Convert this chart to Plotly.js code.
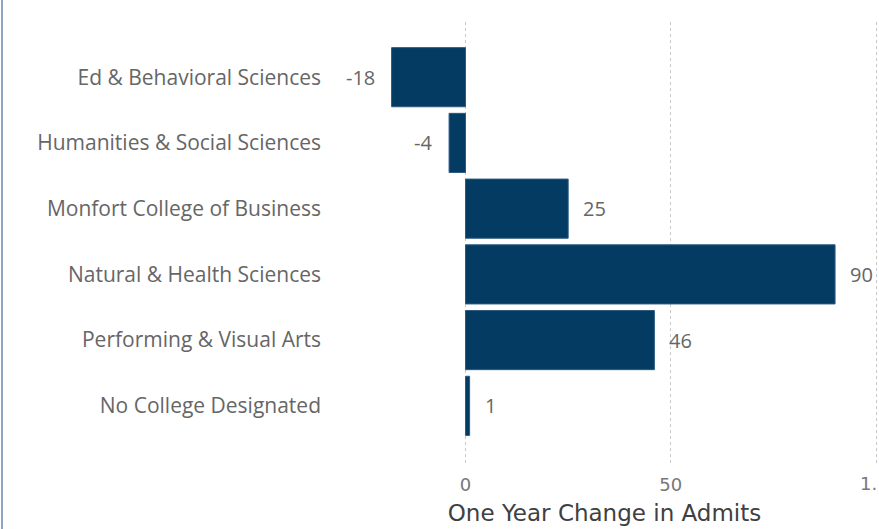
<!DOCTYPE html>
<html><head><meta charset="utf-8">
<script src="https://cdn.plot.ly/plotly-3.0.1.min.js"></script>
<style>html,body{margin:0;padding:0;background:#fff;}#chart{width:879px;height:529px;}
#edge{position:absolute;left:1px;top:0;width:2px;height:529px;background:#8fa6bf;}</style>
</head><body>
<div id="chart"></div><div id="edge"></div>
<script>
const categories = ["Ed & Behavioral Sciences","Humanities & Social Sciences","Monfort College of Business","Natural & Health Sciences","Performing & Visual Arts","No College Designated"];
const values = [-18, -4, 25, 90, 46, 1];
const tickVals = [0, 50, 100];
const tickText = ["0", "50", "1."];

const tickFont = {family: 'DejaVu Sans, sans-serif', size: 18, color: '#777'};
const annotations = values.map((v, i) => ({
  x: v, y: categories[i], xref: 'x', yref: 'y', text: String(v), showarrow: false,
  xanchor: v < 0 ? 'right' : 'left', xshift: v < 0 ? -15 : 13,
  font: {family: 'Open Sans, sans-serif', size: 20, color: '#666'}
}));
// last tick label is truncated at the right edge; draw it right-aligned so it stays visible
annotations.push({
  x: tickVals[2], y: 0, xref: 'x', yref: 'paper', text: tickText[2], showarrow: false,
  xanchor: 'right', yanchor: 'top', xshift: 3, yshift: -8, font: tickFont
});

Plotly.newPlot('chart', [{
  type: 'bar', orientation: 'h', x: values, y: categories,
  marker: {color: '#033b63', line: {color: '#2c5a80', width: 1}},
  width: 0.9, hoverinfo: 'none'
}], {
  width: 879, height: 529,
  margin: {l: 330, r: 0, t: 22, b: 66},
  paper_bgcolor: '#fff', plot_bgcolor: '#fff',
  showlegend: false,
  annotations: annotations,
  xaxis: {
    range: [-33, 100.7], tickvals: tickVals, ticktext: [tickText[0], tickText[1], ''],
    showgrid: true, gridcolor: '#c8c8c8', griddash: 'dot', gridwidth: 1,
    zeroline: false, showline: false, ticks: '', ticklabelstandoff: 9,
    automargin: false,
    tickfont: tickFont,
    title: {text: 'One Year Change in Admits', standoff: 10,
      font: {family: 'DejaVu Sans, sans-serif', size: 23, color: '#404040'}}
  },
  yaxis: {
    type: 'category', range: [5.87, -0.84], autorange: false,
    showgrid: false, zeroline: false, showline: false, ticks: '',
    ticklabelstandoff: 8, automargin: false,
    tickfont: {family: 'Open Sans, sans-serif', size: 21, color: '#666'}
  }
}, {displayModeBar: false, staticPlot: true});
</script>
</body></html>
